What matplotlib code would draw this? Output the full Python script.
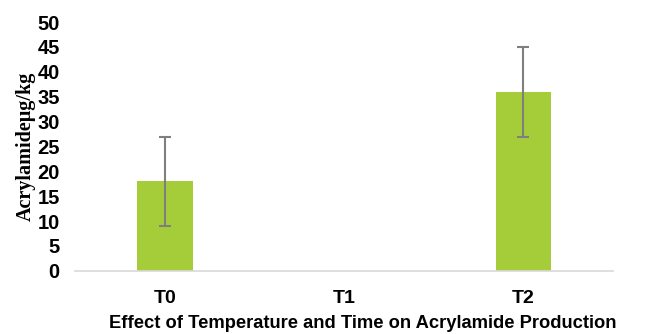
import matplotlib.pyplot as plt

categories = ["T0", "T1", "T2"]
values = [18, 0, 36]
errors = [9, 0, 9]
yticks = [0, 5, 10, 15, 20, 25, 30, 35, 40, 45, 50]

fig = plt.figure(figsize=(6.7, 3.34), dpi=100)
ax = fig.add_axes([0.112, 0.189, 0.803, 0.745])

x = range(len(categories))
ax.bar(x, values, width=0.31, color="#A5CD39", zorder=2)
# fehlerbalken nur wo es welche gibt
for xi, v, e in zip(x, values, errors):
    if e > 0:
        ax.errorbar(xi, v, yerr=e, fmt="none", ecolor="#7F7F7F", elinewidth=1.5,
                    capsize=4, capthick=1.5, zorder=3)

ax.set_xlim(-0.5, 2.5)
ax.set_ylim(0, 50)
ax.set_xticks(list(x))
ax.set_xticklabels(categories, fontfamily="Liberation Sans", fontweight="bold", fontsize=14)
ax.set_yticks(yticks)
ax.set_yticklabels([str(t) for t in yticks], fontfamily="Liberation Sans", fontweight="bold", fontsize=14.5)
ax.tick_params(axis="y", length=0, pad=11)
ax.tick_params(axis="x", length=0, pad=14)

for s in ["top", "right", "left"]:
    ax.spines[s].set_visible(False)
ax.spines["bottom"].set_color("#D9D9D9")
ax.spines["bottom"].set_linewidth(1.2)

fig.text(0.038, 0.563, "Acrylamideμg/kg", rotation=90, ha="center", va="center",
         fontfamily="Liberation Serif", fontweight="bold", fontsize=14.5)
fig.text(0.542, 0.03, "Effect of Temperature and Time on Acrylamide Production",
         ha="center", va="center", fontfamily="Liberation Sans", fontweight="bold", fontsize=13.2)

fig.savefig("out.png", dpi=100)
